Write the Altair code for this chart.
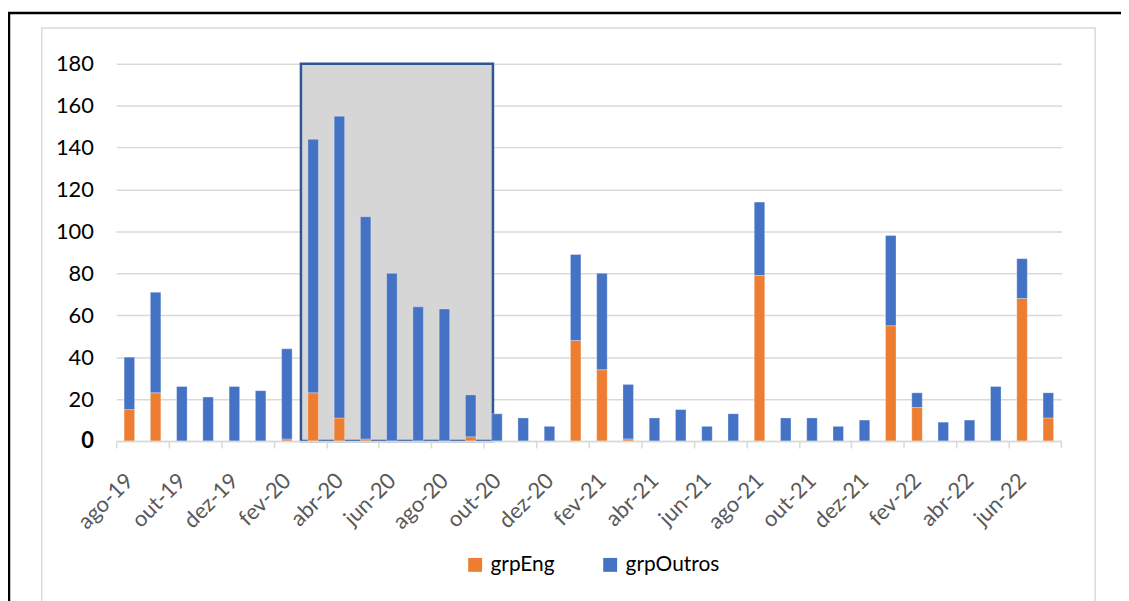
import altair as alt
import pandas as pd

months = ["ago-19", "set-19", "out-19", "nov-19", "dez-19", "jan-20", "fev-20",
          "mar-20", "abr-20", "mai-20", "jun-20", "jul-20", "ago-20", "set-20",
          "out-20", "nov-20", "dez-20", "jan-21", "fev-21", "mar-21", "abr-21",
          "mai-21", "jun-21", "jul-21", "ago-21", "set-21", "out-21", "nov-21",
          "dez-21", "jan-22", "fev-22", "mar-22", "abr-22", "mai-22", "jun-22",
          "jul-22"]
grp_eng = [15, 23, 0, 0, 0, 0, 1, 23, 11, 1, 0, 0, 0, 2, 0, 0, 0, 48, 34, 1,
           0, 0, 0, 0, 79, 0, 0, 0, 0, 55, 16, 0, 0, 0, 68, 11]
grp_outros = [25, 48, 26, 21, 26, 24, 43, 121, 144, 106, 80, 64, 63, 20, 13, 11,
              7, 41, 46, 26, 11, 15, 7, 13, 35, 11, 11, 7, 10, 43, 7, 9, 10, 26,
              19, 12]
series = ["grpEng", "grpOutros"]
colors = ["#ed7d31", "#4472c4"]
y_ticks = [0, 20, 40, 60, 80, 100, 120, 140, 160, 180]
label_months = months[::2]
highlight_start = ["mar-20"]
highlight_end = ["out-20"]

rows = []
for i, m in enumerate(months):
    if grp_eng[i] > 0:
        rows.append({"month": m, "group": series[0], "value": grp_eng[i], "ord": 0})
    if grp_outros[i] > 0:
        rows.append({"month": m, "group": series[1], "value": grp_outros[i], "ord": 1})
df = pd.DataFrame(rows)

W, H = 952, 380
step = W / len(months)
FONT = "Lato"

xaxis = alt.Axis(values=label_months, title=None, labelAngle=-45,
                 labelAlign="right", labelBaseline="middle",
                 tickOffset=-step / 2, labelOffset=step / 2,
                 labelFontSize=22, labelColor="#595959", labelFont=FONT,
                 labelPadding=29, domainColor="#d9d9d9", domainWidth=1.5,
                 tickColor="#d9d9d9", tickWidth=1.5, tickSize=7, grid=False)
yaxis = alt.Axis(values=y_ticks, title=None, domain=False, ticks=False, tickSize=0,
                 labelPadding=23, labelFontSize=22, labelColor="#000000",
                 labelFont=FONT,
                 labelFontWeight=alt.expr("datum.value === 0 ? 'bold' : 'normal'"),
                 gridColor="#d9d9d9", gridWidth=1.5)
xscale = alt.Scale(domain=months, paddingInner=0.6, paddingOuter=0.3)
yscale = alt.Scale(domain=[0, 180])

hl = pd.DataFrame({"start": highlight_start, "end": highlight_end,
                   "y0": [0], "y1": [180]})
rect = alt.Chart(hl).mark_rect(fill="#d6d6d6", stroke="#2f5597", strokeWidth=2.5,
                               xOffset=-7, x2Offset=-4).encode(
    x=alt.X("start:N", scale=xscale, axis=xaxis, bandPosition=0),
    x2="end",
    y=alt.Y("y0:Q", scale=yscale, axis=yaxis),
    y2="y1",
)

bars = alt.Chart(df).mark_bar(stroke="white", strokeWidth=0.6, strokeOpacity=0.5).encode(
    x=alt.X("month:N", scale=xscale, axis=xaxis),
    y=alt.Y("value:Q", stack="zero", scale=yscale, axis=yaxis),
    color=alt.Color("group:N", scale=alt.Scale(domain=series, range=colors),
                    legend=alt.Legend(title=None, orient="none", legendX=351,
                                      legendY=494, direction="horizontal",
                                      symbolType="square", symbolSize=196,
                                      symbolStrokeWidth=0, labelFontSize=21,
                                      labelFont=FONT, labelColor="#000000",
                                      labelOffset=5, columnPadding=45,
                                      padding=0)),
    order=alt.Order("ord:Q"),
)

frame_df = pd.DataFrame({"k": [0]})
end_tick = alt.Chart(frame_df).mark_rule(color="#d9d9d9", strokeWidth=1.5).encode(
    x=alt.value(W), y=alt.value(H), y2=alt.value(H + 7))
inner_frame = alt.Chart(frame_df).mark_rect(fillOpacity=0, stroke="#d9d9d9",
                                            strokeWidth=1.5).encode(
    x=alt.value(-75), x2=alt.value(986), y=alt.value(-36), y2=alt.value(600))
outer_frame = alt.Chart(frame_df).mark_rect(fillOpacity=0, stroke="#000000",
                                            strokeWidth=2.5).encode(
    x=alt.value(-108), x2=alt.value(1200), y=alt.value(-51), y2=alt.value(700))

chart = alt.layer(outer_frame, inner_frame, end_tick, rect, bars).properties(
    width=W, height=H,
    autosize=alt.AutoSizeParams(type="none"),
    padding={"left": 109, "top": 54, "right": 60, "bottom": 159},
    background="white",
).configure_view(stroke=None)

chart.save("out.html", embed_options={"renderer": "svg", "actions": False})
